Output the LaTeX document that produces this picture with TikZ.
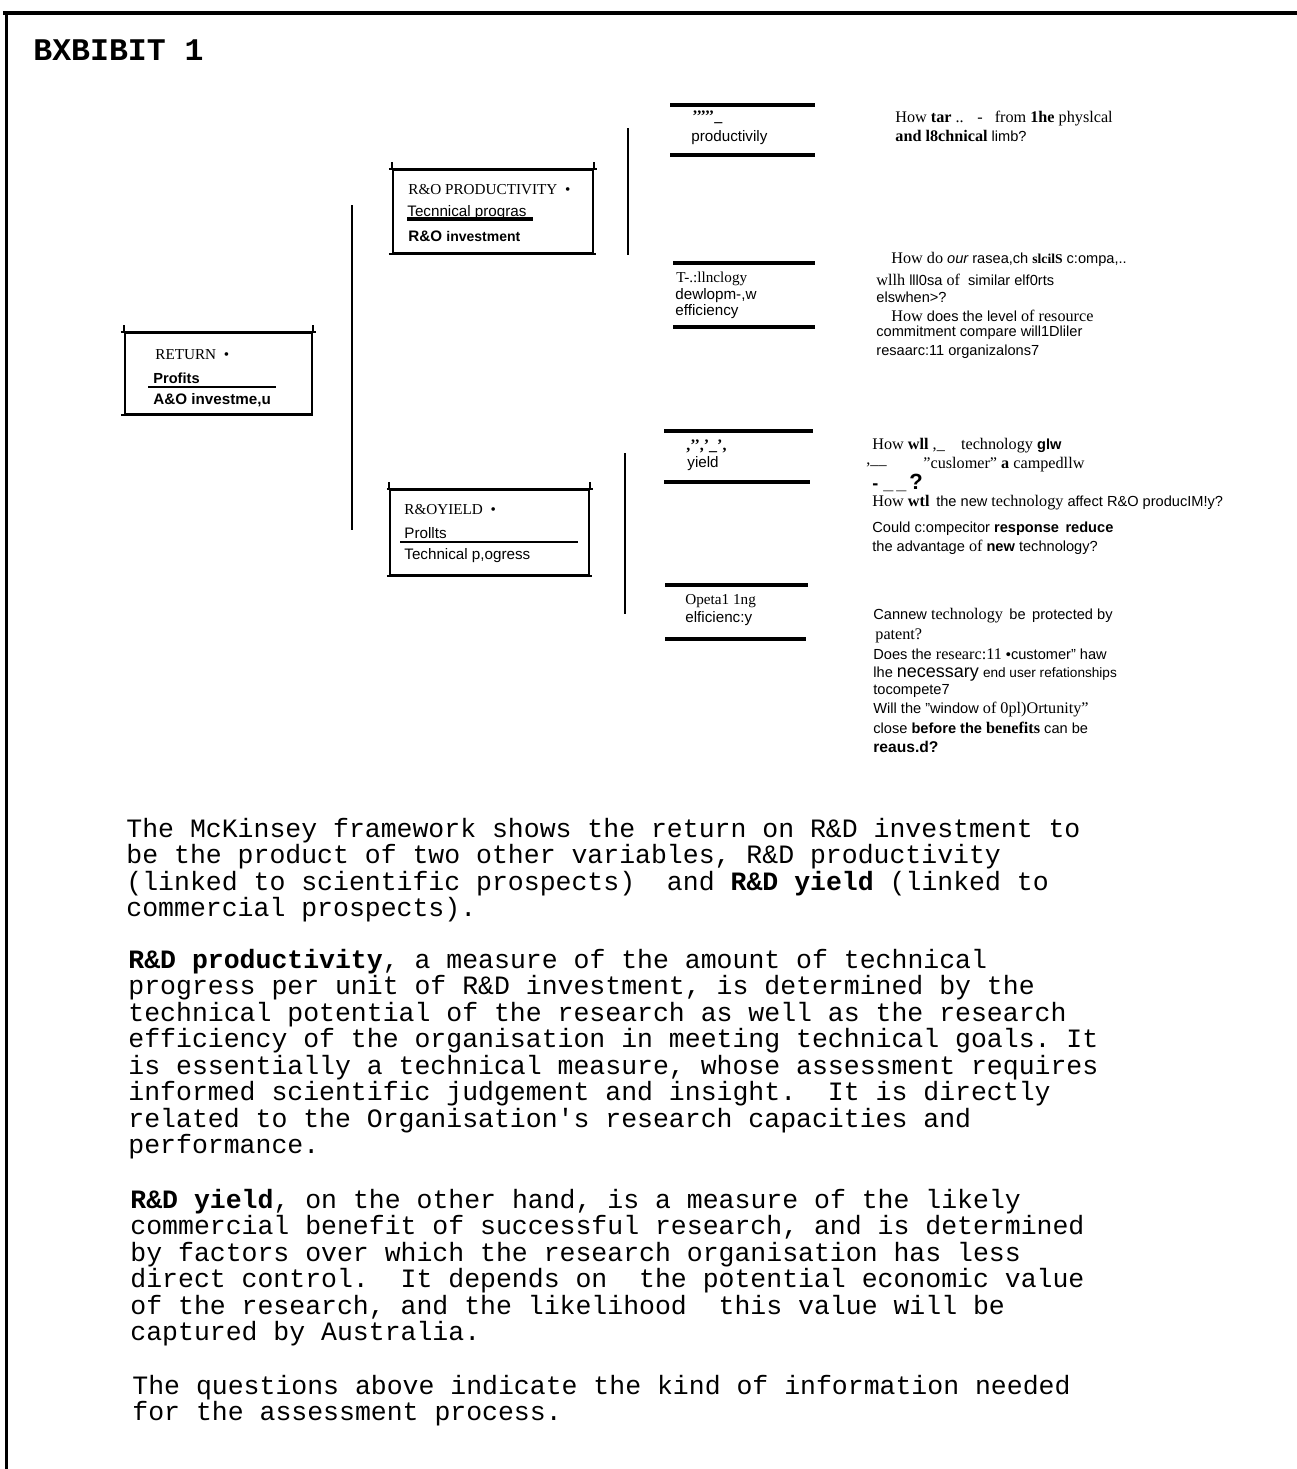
\documentclass[tikz,border=0pt]{standalone}
\usepackage{fontspec}
\setmainfont{Liberation Serif}
\setsansfont{Liberation Sans}
\setmonofont{Liberation Mono}
\newcommand\rmq{\rmfamily\fontsize{8.1}{9}\selectfont}
\newcommand\sfq{\sffamily\fontsize{7.3}{9}\selectfont}
\begin{document}
\begin{tikzpicture}[x=0.5pt,y=-0.5pt,
  body/.style={anchor=base west,inner sep=0pt,font=\fontsize{13.25}{13.25}\selectfont\ttfamily},
  ttl/.style={anchor=base west,inner sep=0pt,font=\fontsize{15.75}{16}\selectfont\ttfamily\bfseries},
  qs/.style={anchor=west,inner sep=0pt,font=\sfq},
  qq/.style={anchor=west,inner sep=0pt,font=\rmq},
  qr/.style={anchor=west,inner sep=0pt,font=\fontsize{7.6}{9}\selectfont\rmfamily},
  bs/.style={anchor=west,inner sep=0pt,font=\fontsize{7.6}{9}\selectfont\sffamily},
  bx/.style={draw,line width=1.2pt,inner sep=0pt},
  tick/.style={line width=1pt},
  bar/.style={line width=1pt},
  rulebar/.style={line width=1.7pt},
  uline/.style={line width=0.9pt},
  frame/.style={line width=2pt}
]
\useasboundingbox (0,0) rectangle (1297,1469);

% frame
\draw[frame] (3,13) -- (1297,13);
\draw[line width=1.5pt] (6.5,11) -- (6.5,1469);

% title
\node[ttl] (title) at (33,60) {BXBIBIT 1};

% RETURN box
\node[bx,minimum width=93.5pt,minimum height=40.5pt] (ret) at (218.5,373.5) {};
\draw[line width=1.2pt] ([xshift=-1.5pt]ret.north west) -- ([xshift=1.5pt]ret.north east);
\draw[line width=1.2pt] ([xshift=-1.5pt]ret.south west) -- (ret.south east);
\draw[tick] (ret.north west) -- ++(0,-7);
\draw[tick] (ret.north east) -- ++(0,-7);
\node[qr] (retA) at (155,355) {RETURN \ •};
\node[bs,font=\fontsize{7.3}{9}\selectfont\sffamily\bfseries] (retB) at (153,378) {Profits};
\draw[uline] (148,387) -- (276,387);
\node[bs,font=\fontsize{7.6}{9}\selectfont\sffamily\bfseries] (retC) at (153,400) {A\&O investme,u};

% R&O PRODUCTIVITY box
\node[bx,minimum width=100pt,minimum height=41.5pt] (prod) at (493,211.5) {};
\draw[line width=1.2pt] ([xshift=-1.5pt]prod.north west) -- ([xshift=1.5pt]prod.north east);
\draw[line width=1.2pt] ([xshift=-1.5pt]prod.south west) -- ([xshift=1pt]prod.south east);
\draw[tick] (prod.north west) -- ++(0,-7);
\draw[tick] (prod.north east) -- ++(0,-7);
\node[qr] (prodA) at (408,190) {R\&O PRODUCTIVITY \ •};
\node[bs] (prodB) at (407,213) {Tecnnical progras};
\draw[line width=1.6pt] (407,219) -- (533,219);
\node[bs,font=\fontsize{7.6}{9}\selectfont\sffamily\bfseries] (prodC) at (408,236) {R\&O {\fontsize{7}{9}\selectfont investment}};

% R&O YIELD box
\node[bx,minimum width=99.5pt,minimum height=42.5pt] (yld) at (489.5,532.5) {};
\draw[line width=1.2pt] ([xshift=-1pt]yld.north west) -- ([xshift=1.5pt]yld.north east);
\draw[line width=1.2pt] ([xshift=-1pt]yld.south west) -- ([xshift=1pt]yld.south east);
\draw[tick] (yld.north west) -- ++(0,-7);
\draw[tick] (yld.north east) -- ++(0,-7);
\node[qr] (yldA) at (404,510) {R\&OYIELD \ •};
\node[bs] (yldB) at (404,533) {Prollts};
\draw[uline] (400,542) -- (578,542);
\node[bs] (yldC) at (404,556) {Technical p,ogress};

% vertical bars
\draw[bar] (352,205) -- (352,530);
\draw[bar] (628,128) -- (628,255);
\draw[bar] (625,453) -- (625,614);

% item rules
\draw[rulebar] (670,105) -- (815,105);
\draw[rulebar] (670,155) -- (815,155);
\draw[rulebar] (673,263) -- (815,263);
\draw[rulebar] (673,327) -- (815,327);
\draw[rulebar] (664,431) -- (813,431);
\draw[rulebar] (664,482) -- (810,482);
\draw[rulebar] (665,585) -- (808,585);
\draw[rulebar] (665,639) -- (806,639);

% item texts
\node[qr,font=\fontsize{8}{9}\selectfont\rmfamily\bfseries] (i1a) at (692,117) {\textquoteright\textquoteright\textquoteright\textquoteright\textquoteright\_};
\node[bs] (i1b) at (691,138) {productivily};
\node[qr] (i2a) at (676,279) {T-.:llnclogy};
\node[bs] (i2b) at (675,296) {dewlopm-,w};
\node[bs] (i2c) at (675,312) {efficiency};
\node[qr,font=\fontsize{8}{9}\selectfont\rmfamily\bfseries] (i3a) at (686,446) {,\textquoteright\textquoteright,\textquoteright\_\textquoteright,};
\node[bs] (i3b) at (687,464) {yield};
\node[qr] (i4a) at (685,601) {Opeta1 1ng};
\node[bs] (i4b) at (685,619) {elficienc:y};

% questions 1
\node[qq] (q1a) at (895,119) {How \textbf{tar} .. \ \ - \ \ from \textbf{1he} physlcal};
\node[qq] (q1b) at (895,136) {\textbf{and l8chnical} {\sfq limb?}};

% questions 2
\node[qq] (q2a) at (891,259) {How do {\sfq\itshape our} {\sfq rasea,ch} {\bfseries\fontsize{6.8}{8}\selectfont slcilS} {\sfq c:ompa,..}};
\node[qq] (q2b) at (876,280) {wllh {\sfq lll0sa} of \ {\sfq similar elf0rts}};
\node[qs] (q2c) at (876,297) {elswhen>?};
\node[qq] (q2d) at (891,316) {How {\sfq does the level} of resource};
\node[qs] (q2e) at (876,333) {commitment compare will1Dliler};
\node[qs] (q2f) at (876,352) {resaarc:11 organizalons7};

% questions 3
\node[qq] (q3a) at (872,446) {How \textbf{wll} ,\_ \ \ \ technology {\sfq\bfseries glw}};
\node[qq] (q3b) at (866,465) {,\_\_};
\node[qq] (q3c) at (923,465) {"cuslomer" \textbf{a} campedllw};
\node[qs,font=\fontsize{9}{10}\selectfont\sffamily\bfseries] (q3d) at (872,483) {- \_\,\_\,{\fontsize{11}{11}\selectfont ?}};
\node[qq] (q3e) at (872,503) {How \textbf{wtl} \,{\sfq the new} technology {\sfq affect R\&O producIM!y?}};
\node[qs] (q3f) at (872,529) {Could c:ompecitor \textbf{response \,reduce}};
\node[qs] (q3g) at (872,547) {the advantage {\rmq of} \textbf{new} technology?};

% questions 4
\node[qs] (q4a) at (873,616) {Cannew {\rmq technology} \,be \,protected by};
\node[qq] (q4b) at (875,636) {patent?};
\node[qs] (q4c) at (873,654) {Does the {\rmq researc:11} •customer" haw};
\node[qs] (q4d) at (873,674) {lhe {\fontsize{9}{10}\selectfont necessary} {\fontsize{6.8}{9}\selectfont end user refationships}};
\node[qs] (q4e) at (873,691) {tocompete7};
\node[qs] (q4f) at (873,710) {Will the "window {\rmq of 0pl)Ortunity"}};
\node[qs] (q4g) at (873,728) {close \textbf{before the} {\rmq\bfseries benefits} can be};
\node[qs,font=\fontsize{7.8}{9}\selectfont\sffamily\bfseries] (q4h) at (873,747) {reaus.d?};

% paragraph 1
\node[body] (p1a) at (126,837) {The McKinsey framework shows the return on R\&D investment to};
\node[body] (p1b) at (126,863.5) {be the product of two other variables, R\&D productivity};
\node[body] (p1c) at (126,890) {(linked to scientific prospects)\ \ and \textbf{R\&D yield} (linked to};
\node[body] (p1d) at (126,916.5) {commercial prospects).};

% paragraph 2
\node[body] (p2a) at (128,968) {\textbf{R\&D productivity}, a measure of the amount of technical};
\node[body] (p2b) at (128,994.5) {progress per unit of R\&D investment, is determined by the};
\node[body] (p2c) at (128,1021) {technical potential of the research as well as the research};
\node[body] (p2d) at (128,1047.5) {efficiency of the organisation in meeting technical goals. It};
\node[body] (p2e) at (128,1074) {is essentially a technical measure, whose assessment requires};
\node[body] (p2f) at (128,1100.5) {informed scientific judgement and insight.\ \ It is directly};
\node[body] (p2g) at (128,1127) {related to the Organisation's research capacities and};
\node[body] (p2h) at (128,1153.5) {performance.};

% paragraph 3
\node[body] (p3a) at (130,1208) {\textbf{R\&D yield}, on the other hand, is a measure of the likely};
\node[body] (p3b) at (130,1234.5) {commercial benefit of successful research, and is determined};
\node[body] (p3c) at (130,1261) {by factors over which the research organisation has less};
\node[body] (p3d) at (130,1287.5) {direct control.\ \ It depends on\ \ the potential economic value};
\node[body] (p3e) at (130,1314) {of the research, and the likelihood\ \ this value will be};
\node[body] (p3f) at (130,1340.5) {captured by Australia.};

% paragraph 4
\node[body] (p4a) at (132,1394) {The questions above indicate the kind of information needed};
\node[body] (p4b) at (132,1420.5) {for the assessment process.};
\end{tikzpicture}
\end{document}
